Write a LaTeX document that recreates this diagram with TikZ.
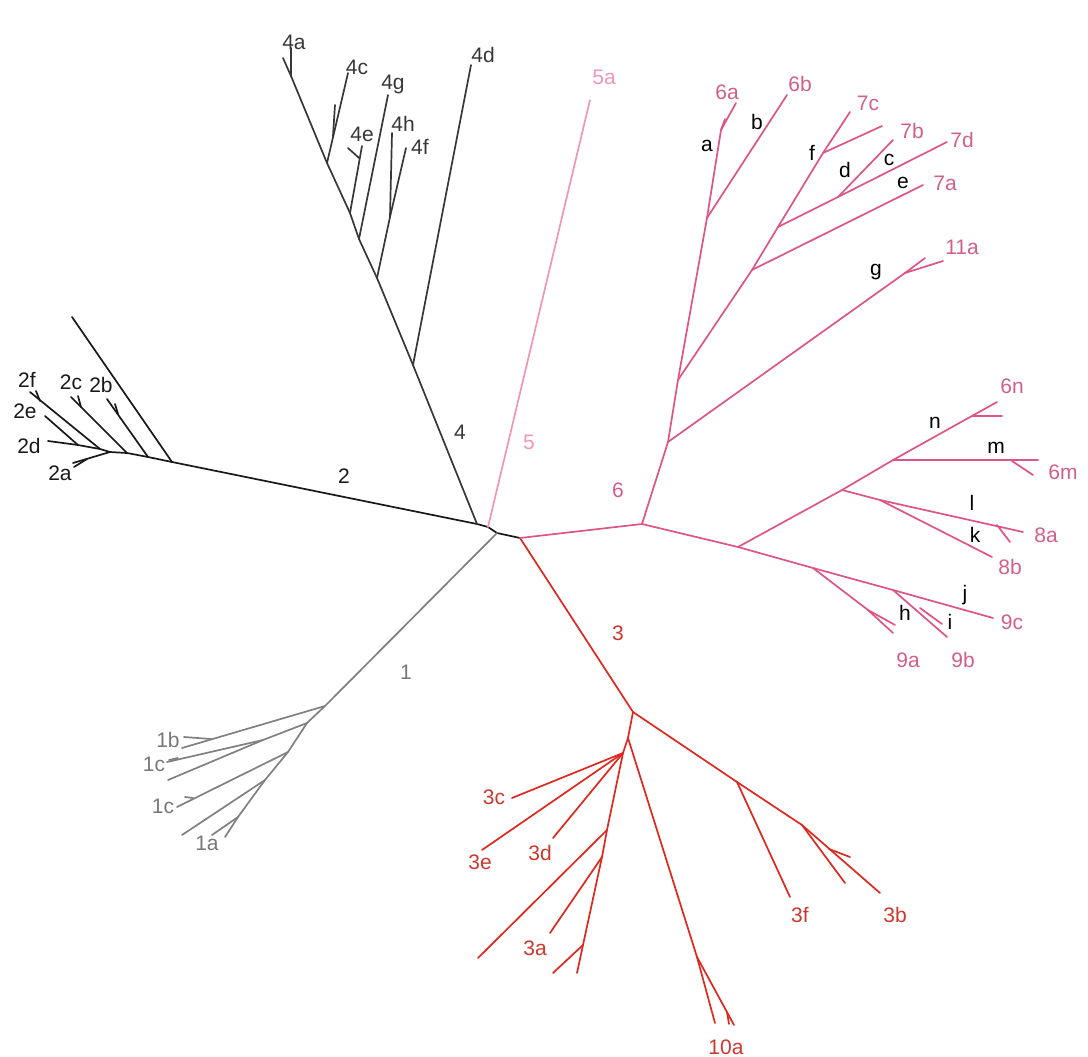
\documentclass[tikz,border=0pt]{standalone}
\usepackage{fontspec}
\setmainfont{Liberation Sans}
\definecolor{cgray}{RGB}{128,128,128}
\definecolor{cblack}{RGB}{25,25,25}
\definecolor{cfour}{RGB}{55,55,55}
\definecolor{cfive}{RGB}{240,150,182}
\definecolor{csix}{RGB}{222,85,132}
\definecolor{cthree}{RGB}{222,40,30}
\definecolor{lsix}{RGB}{210,95,135}
\definecolor{lthree}{RGB}{205,55,45}
\definecolor{lone}{RGB}{120,120,120}
\tikzset{
  br/.style={line width=1.7pt, line cap=round, line join=round},
  lb/.style={font=\fontsize{21}{24}\selectfont, inner sep=0pt, anchor=center},
}
\begin{document}
\begin{tikzpicture}[x=1pt,y=-1pt]
\useasboundingbox (0,0) rectangle (1088,1057);
% ---------- centre
\coordinate (A) at (477,524);
\coordinate (P5) at (488,527);
\coordinate (P1) at (497,533);
\coordinate (B) at (520,538);
% ---------- clade 2
\coordinate (n2a) at (172,462); \coordinate (l2long) at (72,317);
\coordinate (n2b) at (148,457); \coordinate (l2b) at (107,399);
\coordinate (t2b) at (118,414); \coordinate (t2bb) at (115,404);
\coordinate (n2c) at (127,453); \coordinate (l2c) at (71,397);
\coordinate (t2c) at (81,407); \coordinate (t2cc) at (78,396);
\coordinate (n2d) at (110,452); \coordinate (l2a) at (73,463);
\coordinate (t2a) at (87,459); \coordinate (t2aa) at (74,467);
\coordinate (n2e) at (100,449); \coordinate (l2f) at (30,392);
\coordinate (t2f) at (40,401); \coordinate (t2ff) at (36,391);
\coordinate (n2f) at (78,445); \coordinate (l2e) at (45,416); \coordinate (l2d) at (48,441);
\draw[br,cblack] (n2a) -- (A) -- (P5) -- (P1) -- (B);
\draw[br,cblack] (n2a) -- (l2long);
\draw[br,cblack] (n2a) -- (n2b) -- (l2b);  \draw[br,cblack] (t2b) -- (t2bb);
\draw[br,cblack] (n2b) -- (n2c) -- (l2c);  \draw[br,cblack] (t2c) -- (t2cc);
\draw[br,cblack] (n2c) -- (n2d) -- (l2a);  \draw[br,cblack] (t2a) -- (t2aa);
\draw[br,cblack] (n2d) -- (n2e) -- (l2f);  \draw[br,cblack] (t2f) -- (t2ff);
\draw[br,cblack] (n2e) -- (n2f) -- (l2e);  \draw[br,cblack] (n2f) -- (l2d);
% ---------- clade 4
\coordinate (n4d) at (413,365); \coordinate (l4d) at (471,65);
\coordinate (n4f) at (377,278); \coordinate (n4h) at (390,217);
\coordinate (l4f) at (406,148); \coordinate (l4h) at (392,133);
\coordinate (n4g) at (359,239); \coordinate (l4g) at (388,95);
\coordinate (n4e) at (350,213); \coordinate (l4e) at (362,146);
\coordinate (t4e) at (359,158); \coordinate (t4ee) at (348,148);
\coordinate (n4c) at (327,163); \coordinate (l4c) at (348,73);
\coordinate (t4c) at (333,136); \coordinate (t4cc) at (335,105);
\coordinate (n4a) at (291,76); \coordinate (l4a) at (283,58); \coordinate (l4aa) at (291,48);
\draw[br,cfour] (A) -- (n4d) -- (l4d);
\draw[br,cfour] (n4d) -- (n4f) -- (n4h) -- (l4f); \draw[br,cfour] (n4h) -- (l4h);
\draw[br,cfour] (n4f) -- (n4g) -- (l4g);
\draw[br,cfour] (n4g) -- (n4e) -- (l4e); \draw[br,cfour] (t4e) -- (t4ee);
\draw[br,cfour] (n4e) -- (n4c) -- (l4c); \draw[br,cfour] (t4c) -- (t4cc);
\draw[br,cfour] (n4c) -- (n4a) -- (l4a); \draw[br,cfour] (n4a) -- (l4aa);
% ---------- clade 5
\coordinate (l5a) at (590,100);
\draw[br,cfive] (P5) -- (l5a);
% ---------- clade 1
\coordinate (n1a) at (325,706); \coordinate (l1b) at (182,748);
\coordinate (t1b) at (211,739); \coordinate (t1bb) at (184,737);
\coordinate (n1b) at (307,723); \coordinate (n1c) at (263,740);
\coordinate (l1c) at (167,762); \coordinate (l1x) at (168,780);
\coordinate (t1c) at (178,758); \coordinate (t1cc) at (169,760);
\coordinate (n1d) at (288,752); \coordinate (l1cc) at (177,807);
\coordinate (t1d) at (193,798); \coordinate (t1dd) at (185,797);
\coordinate (n1e) at (265,780); \coordinate (l1y) at (182,835);
\coordinate (n1f) at (238,817); \coordinate (l1a) at (212,835); \coordinate (l1aa) at (225,837);
\draw[br,cgray] (P1) -- (n1a) -- (l1b); \draw[br,cgray] (t1b) -- (t1bb);
\draw[br,cgray] (n1a) -- (n1b) -- (n1c) -- (l1c); \draw[br,cgray] (n1c) -- (l1x);
\draw[br,cgray] (t1c) -- (t1cc);
\draw[br,cgray] (n1b) -- (n1d) -- (l1cc); \draw[br,cgray] (t1d) -- (t1dd);
\draw[br,cgray] (n1d) -- (n1e) -- (l1y);
\draw[br,cgray] (n1e) -- (n1f) -- (l1a); \draw[br,cgray] (n1f) -- (l1aa);
% ---------- clade 3
\coordinate (n3) at (633,712);
\coordinate (n3r) at (737,782); \coordinate (l3f) at (790,897);
\coordinate (n3s) at (802,825); \coordinate (l3b) at (880,893); \coordinate (l3bb) at (845,883);
\coordinate (t3b) at (829,849); \coordinate (t3bb) at (850,857);
\coordinate (X) at (628,738);
\coordinate (n10) at (697,957); \coordinate (l10a) at (715,1023); \coordinate (l10b) at (734,1025);
\coordinate (t10) at (727,1012); \coordinate (t10b) at (729,1024);
\coordinate (F) at (623,753);
\coordinate (l3c) at (512,798); \coordinate (l3e) at (482,850); \coordinate (l3d) at (553,838);
\coordinate (G1) at (607,830); \coordinate (l3x) at (478,958);
\coordinate (G2) at (602,857); \coordinate (l3a) at (550,933);
\coordinate (G3) at (583,945); \coordinate (l3y) at (553,973); \coordinate (l3z) at (577,973);
\draw[br,cthree] (B) -- (n3) -- (n3r) -- (l3f);
\draw[br,cthree] (n3r) -- (n3s) -- (l3b); \draw[br,cthree] (n3s) -- (l3bb);
\draw[br,cthree] (t3b) -- (t3bb);
\draw[br,cthree] (n3) -- (X) -- (n10) -- (l10a); \draw[br,cthree] (n10) -- (l10b);
\draw[br,cthree] (t10) -- (t10b);
\draw[br,cthree] (X) -- (F) -- (l3c); \draw[br,cthree] (F) -- (l3e); \draw[br,cthree] (F) -- (l3d);
\draw[br,cthree] (F) -- (G1) -- (l3x);
\draw[br,cthree] (G1) -- (G2) -- (l3a);
\draw[br,cthree] (G2) -- (G3) -- (l3y); \draw[br,cthree] (G3) -- (l3z);
% ---------- clade 6
\coordinate (C) at (642,524);
\coordinate (U1) at (668,442); \coordinate (n11) at (905,273);
\coordinate (l11a) at (925,258); \coordinate (l11b) at (943,261);
\coordinate (U2) at (678,380); \coordinate (V1) at (752,270); \coordinate (l7a) at (923,185);
\coordinate (V2) at (778,227); \coordinate (l7d) at (947,142);
\coordinate (W) at (838,197); \coordinate (l7b) at (893,140);
\coordinate (V3) at (823,153); \coordinate (l7c) at (850,112); \coordinate (l7cc) at (882,126);
\coordinate (U3) at (707,218); \coordinate (l6b) at (787,95);
\coordinate (U4) at (721,130); \coordinate (l6a) at (736,103); \coordinate (t6a) at (725,119);
\coordinate (D) at (738,547);
\coordinate (E1) at (842,490); \coordinate (E2) at (893,460); \coordinate (l6n) at (997,402);
\coordinate (t6n) at (973,416); \coordinate (t6nn) at (1002,416);
\coordinate (l6m) at (1038,460); \coordinate (t6m) at (1012,461); \coordinate (t6mm) at (1033,475);
\coordinate (E3) at (880,500); \coordinate (l8a) at (1023,532); \coordinate (l8b) at (992,557);
\coordinate (t8a) at (997,525); \coordinate (t8aa) at (1010,542);
\coordinate (H1) at (813,568); \coordinate (n9a) at (868,610);
\coordinate (l9a) at (893,633); \coordinate (l9aa) at (895,625);
\coordinate (H2) at (893,590); \coordinate (l9b) at (947,637);
\coordinate (t9b) at (920,608); \coordinate (t9bb) at (942,624);
\coordinate (l9c) at (993,618);
\draw[br,csix] (B) -- (C) -- (U1) -- (n11) -- (l11a); \draw[br,csix] (n11) -- (l11b);
\draw[br,csix] (U1) -- (U2) -- (V1) -- (l7a);
\draw[br,csix] (V1) -- (V2) -- (W) -- (l7d); \draw[br,csix] (W) -- (l7b);
\draw[br,csix] (V2) -- (V3) -- (l7c); \draw[br,csix] (V3) -- (l7cc);
\draw[br,csix] (U2) -- (U3) -- (l6b);
\draw[br,csix] (U3) -- (U4) -- (l6a); \draw[br,csix] (U4) -- (t6a);
\draw[br,csix] (C) -- (D) -- (E1) -- (E2) -- (l6n); \draw[br,csix] (t6n) -- (t6nn);
\draw[br,csix] (E2) -- (l6m); \draw[br,csix] (t6m) -- (t6mm);
\draw[br,csix] (E1) -- (E3) -- (l8a); \draw[br,csix] (E3) -- (l8b); \draw[br,csix] (t8a) -- (t8aa);
\draw[br,csix] (D) -- (H1) -- (H2) -- (l9c);
\draw[br,csix] (H1) -- (n9a) -- (l9a); \draw[br,csix] (n9a) -- (l9aa);
\draw[br,csix] (H2) -- (l9b); \draw[br,csix] (t9b) -- (t9bb);
% ---------- labels
\node[lb,cblack] (L2) at (344,476) {2};
\node[lb,cblack] (L2f) at (27,380) {2f};
\node[lb,cblack] (L2e) at (25,411) {2e};
\node[lb,cblack] (L2d) at (29,446) {2d};
\node[lb,cblack] (L2a) at (60,473) {2a};
\node[lb,cblack] (L2c) at (71,382) {2c};
\node[lb,cblack] (L2b) at (101,385) {2b};
\node[lb,cfour] (L4) at (460,432) {4};
\node[lb,cfour] (L4a) at (294,42) {4a};
\node[lb,cfour] (L4c) at (357,67) {4c};
\node[lb,cfour] (L4g) at (393,84) {4g};
\node[lb,cfour] (L4e) at (362,134) {4e};
\node[lb,cfour] (L4h) at (403,124) {4h};
\node[lb,cfour] (L4f) at (420,147) {4f};
\node[lb,cfour] (L4d) at (483,55) {4d};
\node[lb,cfive] (L5) at (529,442) {5};
\node[lb,cfive] (L5a) at (604,77) {5a};
\node[lb,lone] (L1) at (406,672) {1};
\node[lb,lone] (L1b) at (168,740) {1b};
\node[lb,lone] (L1c) at (154,764) {1c};
\node[lb,lone] (L1cc) at (163,806) {1c};
\node[lb,lone] (L1a) at (207,843) {1a};
\node[lb,lthree] (L3) at (618,633) {3};
\node[lb,lthree] (L3c) at (494,797) {3c};
\node[lb,lthree] (L3e) at (480,862) {3e};
\node[lb,lthree] (L3d) at (540,853) {3d};
\node[lb,lthree] (L3a) at (535,948) {3a};
\node[lb,lthree] (L10a) at (726,1047) {10a};
\node[lb,lthree] (L3f) at (800,915) {3f};
\node[lb,lthree] (L3b) at (895,915) {3b};
\node[lb,lsix] (L6) at (618,490) {6};
\node[lb,lsix] (L6a) at (727,92) {6a};
\node[lb,lsix] (L6b) at (800,84) {6b};
\node[lb,lsix] (L7c) at (868,103) {7c};
\node[lb,lsix] (L7b) at (912,131) {7b};
\node[lb,lsix] (L7d) at (962,140) {7d};
\node[lb,lsix] (L7a) at (945,183) {7a};
\node[lb,lsix] (L11a) at (962,247) {11a};
\node[lb,lsix] (L6n) at (1012,386) {6n};
\node[lb,lsix] (L6m) at (1063,472) {6m};
\node[lb,lsix] (L8a) at (1046,535) {8a};
\node[lb,lsix] (L8b) at (1010,567) {8b};
\node[lb,lsix] (L9c) at (1012,622) {9c};
\node[lb,lsix] (L9a) at (908,660) {9a};
\node[lb,lsix] (L9b) at (963,660) {9b};
\node[lb,black] (La) at (707,146) {a};
\node[lb,black] (Lb) at (757,122) {b};
\node[lb,black] (Lf) at (812,153) {f};
\node[lb,black] (Ld) at (845,170) {d};
\node[lb,black] (Lc) at (889,160) {c};
\node[lb,black] (Le) at (903,183) {e};
\node[lb,black] (Lg) at (876,272) {g};
\node[lb,black] (Ln) at (935,423) {n};
\node[lb,black] (Lm) at (996,448) {m};
\node[lb,black] (Ll) at (972,503) {l};
\node[lb,black] (Lk) at (975,535) {k};
\node[lb,black] (Lj) at (965,595) {j};
\node[lb,black] (Lh) at (905,613) {h};
\node[lb,black] (Li) at (950,622) {i};
\end{tikzpicture}
\end{document}
